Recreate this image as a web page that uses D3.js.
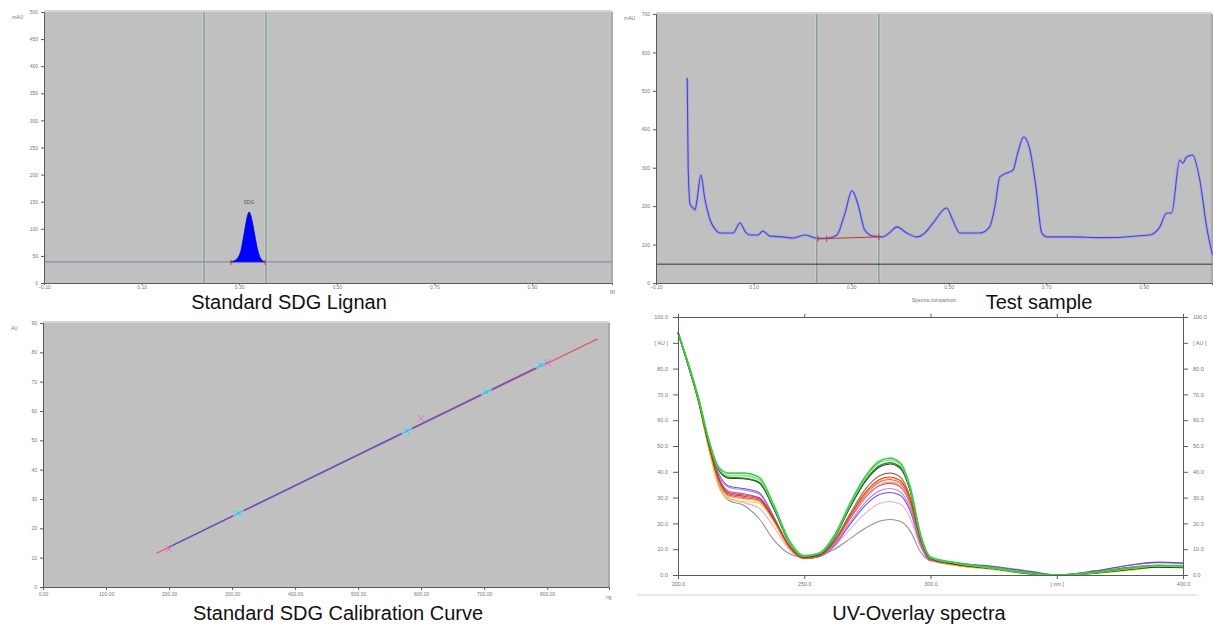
<!DOCTYPE html>
<html>
<head>
<meta charset="utf-8">
<script src="https://cdn.jsdelivr.net/npm/d3@7"></script>
<style>
  body { margin: 0; background: #fff; }
  svg text { font-family: "Liberation Sans", Arial, sans-serif; }
</style>
</head>
<body>
<svg id="chart" width="1213" height="626"></svg>
<script>
// ---- Standard SDG Lignan (densitogram) ----
const lignanYTicks = [0, 50, 100, 150, 200, 250, 300, 350, 400, 450, 500];
const rfTicks = [-0.1, 0.1, 0.3, 0.5, 0.7, 0.9];
const lignanBase = 39;
const lignanPeakRf = [0.283, 0.290, 0.297, 0.303, 0.308, 0.313, 0.317, 0.320, 0.323, 0.327, 0.332, 0.337, 0.342, 0.347, 0.353];
const lignanPeakAu = [39, 41, 46, 58, 80, 106, 124, 131, 127, 112, 88, 64, 49, 42, 39];
const lignanMarkers = [0.228, 0.355];

// ---- Test sample (densitogram) ----
const sampleYTicks = [0, 100, 200, 300, 400, 500, 600, 700];
const sampleRf = [-0.036, -0.034, -0.030, -0.024, -0.020, -0.016, -0.008, 0.000, 0.011, 0.021,
  0.031, 0.058, 0.072, 0.084, 0.093, 0.109, 0.119, 0.134, 0.160, 0.181,
  0.205, 0.222, 0.232, 0.250, 0.271, 0.287, 0.302, 0.314, 0.328, 0.345,
  0.365, 0.380, 0.394, 0.414, 0.435, 0.451, 0.468, 0.496, 0.508, 0.523,
  0.564, 0.584, 0.595, 0.605, 0.619, 0.632, 0.642, 0.654, 0.666, 0.679,
  0.691, 0.701, 0.755, 0.810, 0.912, 0.933, 0.947, 0.957, 0.974, 0.980,
  0.988, 1.000, 1.015, 1.029, 1.041];
const sampleAu = [534, 300, 205, 195, 190, 215, 281, 220, 164, 140,
  130, 130, 156, 132, 125, 125, 135, 122, 120, 117,
  125, 119, 116, 116, 125, 180, 240, 205, 138, 122,
  120, 132, 146, 130, 120, 130, 156, 195, 165, 130,
  130, 146, 200, 276, 286, 294, 340, 380, 350, 250,
  130, 120, 120, 118, 125, 146, 182, 182, 320, 312,
  328, 333, 268, 146, 73];
const sampleMarkers = [0.230, 0.357];
const sampleLimit = 49;
const sampleBaseRf = [0.232, 0.357];
const sampleBaseAu = [115, 120];

// ---- Standard SDG Calibration Curve ----
const calXTicks = [0, 100, 200, 300, 400, 500, 600, 700, 800];
const calYTicks = [0, 10, 20, 30, 40, 50, 60, 70, 80, 90];
const stdAmount = [200, 600, 800];
const stdArea = [13.0, 57.5, 76.5];
const smpAmount = [310, 577, 703, 789];
const smpArea = [25.2, 53.2, 66.5, 75.8];
const fitAmount = [180, 880];
const fitArea = [11.5, 84.6];
const trackAmount = [200, 800];
const trackArea = [13.6, 76.6];

// ---- UV-Overlay spectra ----
const uvYTicks = [0, 10, 20, 30, 40, 50, 60, 70, 80, 90, 100];
const uvXTicks = [200, 250, 300, 350, 400];
const uvNm = [200, 204, 208, 212, 216, 220, 226, 232, 238, 244, 250, 256, 262, 268, 274, 280, 284, 288, 292, 296, 300, 310, 325, 340, 350, 365, 380, 390, 400];
const uvGray = [94, 81.5, 67.5, 50, 35, 29, 27, 22, 13.5, 8.3, 6.8, 7.6, 10, 14, 18, 20.9, 21.5, 20.8, 17, 9, 5.5, 4.5, 3.4, 1.4, 0, 1.6, 4.0, 4.8, 4.5];
const uvLightPink = [94, 81.5, 67.5, 50, 36, 30, 28, 26, 18.5, 9.8, 6.4, 7.2, 11, 17.6, 23.8, 27.8, 28.5, 27.5, 22, 10.8, 5.5, 3.8, 2.4, 0.5, 0, 0.9, 2.6, 3.3, 3.0];
const uvBlue = [94, 81.5, 68, 51.5, 39.5, 34.5, 33.5, 32, 22.5, 11, 6.4, 7.1, 11.5, 19.4, 26.8, 31.3, 32, 30.9, 24.7, 11.9, 5.6, 4.6, 3.2, 1.2, 0, 1.5, 4.0, 5.0, 4.6];
const uvViolet = [94, 81.5, 68, 51.5, 39, 34, 33, 31.5, 22, 11, 6.5, 7.2, 11.8, 20.2, 28, 32.7, 33.5, 32.3, 25.8, 12.3, 5.8, 3.8, 2.5, 0.6, 0, 1.0, 2.8, 3.6, 3.3];
const uvMagenta = [94, 81.5, 68, 51, 38, 32.5, 31.5, 30, 21.5, 11, 6.5, 7.3, 12.4, 21.4, 29.7, 34.7, 35.5, 34.2, 27.2, 12.8, 5.9, 3.9, 2.4, 0.5, 0, 0.9, 2.6, 3.4, 3.1];
const uvOrange = [94, 81.5, 68, 50, 36, 30.5, 29.5, 28.5, 20.5, 10.6, 6.3, 7.3, 12.6, 21.8, 30.1, 35.1, 36, 34.7, 27.6, 13, 6, 3.8, 2.2, 0.4, 0, 0.6, 2.2, 3.6, 3.8];
const uvPink = [94, 81.5, 68, 50.5, 37, 31, 30, 29, 21, 10.8, 6.4, 7.4, 12.8, 22.2, 30.9, 36.1, 37, 35.6, 28.3, 13.2, 6, 4, 2.4, 0.5, 0, 0.9, 2.6, 3.2, 3.0];
const uvYellow = [94, 81.5, 67.5, 49.5, 34.5, 29.5, 28.5, 27.8, 20.5, 10.8, 6.4, 7.5, 13, 22.5, 31.3, 36.6, 37.5, 36.1, 28.7, 13.4, 6.1, 3.7, 2.1, 0.3, 0, 0.5, 1.9, 3.0, 3.2];
const uvRed = [94, 81.5, 68, 51, 37.5, 31.5, 30.5, 29.5, 21.5, 11, 6.5, 7.5, 13, 22.7, 31.7, 37.1, 38, 36.6, 29, 13.5, 6.2, 4.0, 2.5, 0.5, 0, 1.0, 2.5, 3.4, 3.2];
const uvBrown = [94, 81.5, 68, 51, 38, 32, 31, 30, 22, 11.5, 6.8, 7.8, 13.5, 23.5, 33, 38.6, 39.5, 38, 30, 14, 6.3, 4.2, 2.8, 0.8, 0, 1.2, 3.2, 3.8, 3.5];
const uvBlack = [94, 81.5, 68.5, 52.5, 41, 37.5, 37.3, 35.8, 25.5, 12.5, 7, 8, 14.5, 26, 36, 42, 43, 41.3, 32.4, 15, 6.5, 4.3, 2.4, 0.5, 0, 0.7, 2.2, 3.0, 2.8];
const uvDarkGreen = [94, 82, 68.5, 52.5, 41, 37.8, 37.5, 36, 26, 12.8, 7.2, 8.2, 14.8, 26.3, 36.3, 42.5, 43.5, 41.8, 32.8, 15.2, 6.7, 4.5, 2.5, 0.5, 0, 0.8, 2.5, 3.4, 3.2];
const uvLightGreen = [94, 82, 69, 53, 41.5, 38.5, 38.5, 37, 26.5, 13, 7.3, 8.3, 15, 27, 37.3, 43.6, 44.6, 42.8, 33.5, 15.5, 6.8, 4.6, 2.6, 0.6, 0, 0.9, 2.6, 3.5, 3.3];
const uvGreen = [94, 82, 69, 53, 42, 39.5, 39.5, 38, 27, 13.5, 7.5, 8.5, 15.5, 27.5, 38, 44.3, 45.3, 43.5, 34, 16, 7, 4.8, 2.8, 0.8, 0, 1.0, 2.8, 3.8, 3.6];
const uvSeries = [uvGray, uvLightPink, uvBlue, uvViolet, uvMagenta, uvOrange, uvPink, uvYellow,
  uvRed, uvBrown, uvBlack, uvDarkGreen, uvLightGreen, uvGreen];
const uvColors = ['#8c7f90', '#eba5c2', '#5a3ee6', '#b07ee0', '#d63cb0', '#f0a040', '#e8336b', '#e8d31e',
  '#e02424', '#a0522d', '#222222', '#1e7a1e', '#7ee07e', '#2ecc40'];

const svg = d3.select('#chart');
svg.append('rect').attr('width', 1213).attr('height', 626).attr('fill', '#fff');

// style a d3 axis group the way the instrument software draws it
const styleAxis = (g, size) => {
  g.attr('font-size', size).attr('font-family', '"Liberation Sans", Arial, sans-serif');
  g.select('.domain').attr('stroke', '#5a5a5a').attr('stroke-width', 1);
  g.selectAll('.tick line').attr('stroke', '#5a5a5a');
  g.selectAll('.tick text').attr('fill', '#777');
};

// gray plot area used by the TLC software
const grayArea = (x, y) => {
  const [x0, x1] = x.range();
  const [y0, y1] = y.range();
  svg.append('rect').attr('x', x0).attr('y', y1 - 2)
      .attr('width', x1 - x0).attr('height', y0 - y1 + 2).attr('fill', '#d4d4d4');
  svg.append('rect').attr('x', x0).attr('y', y1)
      .attr('width', x1 - x0).attr('height', y0 - y1).attr('fill', '#c0c0c0');
  svg.append('line').attr('x1', x1).attr('x2', x1).attr('y1', y1).attr('y2', y0)
      .attr('stroke', '#aaa').attr('stroke-width', 2);
};

const vMarker = (x, y, rf) => {
  svg.append('line').attr('x1', x(rf)).attr('x2', x(rf))
      .attr('y1', y.range()[1]).attr('y2', y.range()[0])
      .attr('stroke', '#d0d6d3').attr('stroke-width', 3);
  svg.append('line').attr('x1', x(rf)).attr('x2', x(rf))
      .attr('y1', y.range()[1]).attr('y2', y.range()[0])
      .attr('stroke', '#627c76').attr('stroke-width', 1);
};

const title = (text, cx, base) => {
  svg.append('text').attr('x', cx).attr('y', base).attr('text-anchor', 'middle')
      .attr('font-size', 20).attr('fill', '#111').text(text);
};

const small = (text, px, py, anchor) => {
  svg.append('text').attr('x', px).attr('y', py).attr('text-anchor', anchor || 'start')
      .attr('font-size', 5).attr('fill', '#777').text(text);
};

// ================= Panel 1 =================
const x1 = d3.scaleLinear().domain([-0.1, 1.064]).range([44, 612]);
const y1 = d3.scaleLinear().domain([0, 500]).range([283, 12]);
grayArea(x1, y1);
lignanMarkers.forEach((rf) => vMarker(x1, y1, rf));

svg.append('line').attr('x1', x1(-0.1)).attr('x2', x1(1.064))
    .attr('y1', y1(lignanBase)).attr('y2', y1(lignanBase))
    .attr('stroke', '#8a8ab4').attr('stroke-width', 1.3);

const lignanPeak = lignanPeakRf.map((d, i) => [d, lignanPeakAu[i]]);
svg.append('path').datum(lignanPeak)
    .attr('fill', '#0000ff')
    .attr('stroke', '#0000cc').attr('stroke-width', 0.8)
    .attr('d', d3.area().curve(d3.curveMonotoneX)
        .x((d) => x1(d[0])).y0(y1(lignanBase)).y1((d) => y1(d[1])));
[lignanPeakRf[0], lignanPeakRf[lignanPeakRf.length - 1]].forEach((rf) => {
  svg.append('line').attr('x1', x1(rf)).attr('x2', x1(rf))
      .attr('y1', y1(lignanBase) - 2).attr('y2', y1(lignanBase) + 3)
      .attr('stroke', '#d03030').attr('stroke-width', 1);
});
svg.append('text').attr('x', x1(0.320)).attr('y', y1(lignanBase) - 58)
    .attr('text-anchor', 'middle').attr('font-size', 5).attr('fill', '#555').text('SDG');

svg.append('g').attr('transform', `translate(${x1(-0.1)},0)`)
    .call(d3.axisLeft(y1).tickValues(lignanYTicks).tickSize(3).tickPadding(3).tickFormat(d3.format('d')))
    .call((g) => styleAxis(g, 5));
svg.append('g').attr('transform', `translate(0,${y1(0)})`)
    .call(d3.axisBottom(x1).tickValues(rfTicks).tickSize(2).tickPadding(0.5).tickFormat(d3.format('.2f')))
    .call((g) => styleAxis(g, 5));
small('mAU', 12, 19);
small('Rf', 610, 294);
title('Standard SDG Lignan', 289, 309);

// ================= Panel 2 =================
const x2 = d3.scaleLinear().domain([-0.1, 1.04]).range([656, 1212]);
const y2 = d3.scaleLinear().domain([0, 700]).range([283, 14]);
grayArea(x2, y2);
sampleMarkers.forEach((rf) => vMarker(x2, y2, rf));
svg.append('line').attr('x1', x2(-0.1)).attr('x2', x2(1.04))
    .attr('y1', y2(sampleLimit)).attr('y2', y2(sampleLimit))
    .attr('stroke', '#333').attr('stroke-width', 1);

const sample = sampleRf.map((d, i) => [d, sampleAu[i]]);
const sampleLine = d3.line().curve(d3.curveMonotoneX)
    .x((d) => x2(d[0])).y((d) => y2(d[1]));
svg.append('path').datum(sample).attr('fill', 'none')
    .attr('stroke', '#a8a8e0').attr('stroke-width', 3).attr('d', sampleLine);
svg.append('path').datum(sample).attr('fill', 'none')
    .attr('stroke', '#4848c8').attr('stroke-width', 1.1).attr('d', sampleLine);

const sampleBase = sampleBaseRf.map((d, i) => [d, sampleBaseAu[i]]);
svg.append('path').datum(sampleBase).attr('fill', 'none')
    .attr('stroke', '#d03030').attr('stroke-width', 1)
    .attr('d', d3.line().x((d) => x2(d[0])).y((d) => y2(d[1])));
[sampleBaseRf[0], 0.250, sampleBaseRf[1]].forEach((rf, i) => {
  const v = i < 2 ? sampleBaseAu[0] : sampleBaseAu[1];
  svg.append('line').attr('x1', x2(rf)).attr('x2', x2(rf))
      .attr('y1', y2(v) - 3).attr('y2', y2(v) + 3)
      .attr('stroke', '#d03030').attr('stroke-width', 1);
});

svg.append('g').attr('transform', `translate(${x2(-0.1)},0)`)
    .call(d3.axisLeft(y2).tickValues(sampleYTicks).tickSize(3).tickPadding(3).tickFormat(d3.format('d')))
    .call((g) => styleAxis(g, 5));
svg.append('g').attr('transform', `translate(0,${y2(0)})`)
    .call(d3.axisBottom(x2).tickValues(rfTicks).tickSize(2).tickPadding(0.5).tickFormat(d3.format('.2f')))
    .call((g) => styleAxis(g, 5));
small('mAU', 624, 20);
small('Spectra comparison', 934, 302, 'middle');
title('Test sample', 1039, 309);

// ================= Panel 3 =================
const x3 = d3.scaleLinear().domain([0, 898]).range([43, 609]);
const y3 = d3.scaleLinear().domain([0, 90]).range([587, 323]);
grayArea(x3, y3);
const calLine = d3.line().x((d) => x3(d[0])).y((d) => y3(d[1]));
svg.append('path').datum(fitAmount.map((d, i) => [d, fitArea[i]]))
    .attr('fill', 'none').attr('stroke', '#e05a5a').attr('stroke-width', 1.2).attr('d', calLine);
svg.append('path').datum(trackAmount.map((d, i) => [d, trackArea[i]]))
    .attr('fill', 'none').attr('stroke', '#6050c8').attr('stroke-width', 1.4).attr('d', calLine);

const cross = (cx, cy, color, r, w) => {
  svg.append('path')
      .attr('d', `M${cx - r},${cy - r}L${cx + r},${cy + r}M${cx - r},${cy + r}L${cx + r},${cy - r}`)
      .attr('stroke', color).attr('stroke-width', w).attr('fill', 'none');
};
smpAmount.forEach((a, i) => {
  svg.append('ellipse').attr('cx', x3(a)).attr('cy', y3(smpArea[i]))
      .attr('rx', 6).attr('ry', 3.5).attr('fill', '#8fd8e8').attr('opacity', 0.7)
      .attr('transform', `rotate(-26,${x3(a)},${y3(smpArea[i])})`);
  cross(x3(a), y3(smpArea[i]), '#30c0e0', 2.5, 1);
});
stdAmount.forEach((a, i) => cross(x3(a), y3(stdArea[i]), '#e070d0', 3.5, 1));

svg.append('g').attr('transform', `translate(${x3(0)},0)`)
    .call(d3.axisLeft(y3).tickValues(calYTicks).tickSize(3).tickPadding(3).tickFormat(d3.format('d')))
    .call((g) => styleAxis(g, 5));
svg.append('g').attr('transform', `translate(0,${y3(0)})`)
    .call(d3.axisBottom(x3).tickValues(calXTicks).tickSize(3).tickPadding(2).tickFormat(d3.format('.2f')))
    .call((g) => styleAxis(g, 5));
small('AU', 11, 330);
small('ng', 606, 599);
title('Standard SDG Calibration Curve', 338, 620);

// ================= Panel 4 =================
const x4 = d3.scaleLinear().domain([200, 400]).range([678, 1183]);
const y4 = d3.scaleLinear().domain([0, 100]).range([575, 317]);
svg.append('line').attr('x1', 637).attr('x2', 1197).attr('y1', 595).attr('y2', 595)
    .attr('stroke', '#cfcfcf').attr('stroke-width', 1);

const uvLine = d3.line().curve(d3.curveMonotoneX)
    .x((d) => x4(d[0])).y((d) => y4(d[1]));
uvSeries.forEach((s, k) => {
  const pts = uvNm.map((nm, i) => [nm, s[i]]);
  svg.append('path').datum(pts).attr('fill', 'none')
      .attr('stroke', uvColors[k]).attr('stroke-width', k >= 11 ? 1.6 : 1.1)
      .attr('stroke-opacity', 0.9).attr('d', uvLine);
});

const uvYFormat = (d) => (d === 90 ? '[ AU ]' : d.toFixed(1));
const uvXFormat = (d) => (d === 350 ? '[ nm ]' : d.toFixed(1));
svg.append('g').attr('transform', `translate(${x4(200)},0)`)
    .call(d3.axisLeft(y4).tickValues(uvYTicks).tickSize(5).tickPadding(5).tickFormat(uvYFormat))
    .call((g) => styleAxis(g, 5.5));
svg.append('g').attr('transform', `translate(${x4(400)},0)`)
    .call(d3.axisRight(y4).tickValues(uvYTicks).tickSize(5).tickPadding(5).tickFormat(uvYFormat))
    .call((g) => styleAxis(g, 5.5));
svg.append('g').attr('transform', `translate(0,${y4(0)})`)
    .call(d3.axisBottom(x4).tickValues(uvXTicks).tickSize(4).tickPadding(3).tickFormat(uvXFormat))
    .call((g) => styleAxis(g, 5.5));
svg.append('g').attr('transform', `translate(0,${y4(100)})`)
    .call(d3.axisTop(x4).tickValues(uvXTicks).tickSize(3).tickFormat(''))
    .call((g) => styleAxis(g, 5.5));
title('UV-Overlay spectra', 919, 620);
</script>
</body>
</html>
